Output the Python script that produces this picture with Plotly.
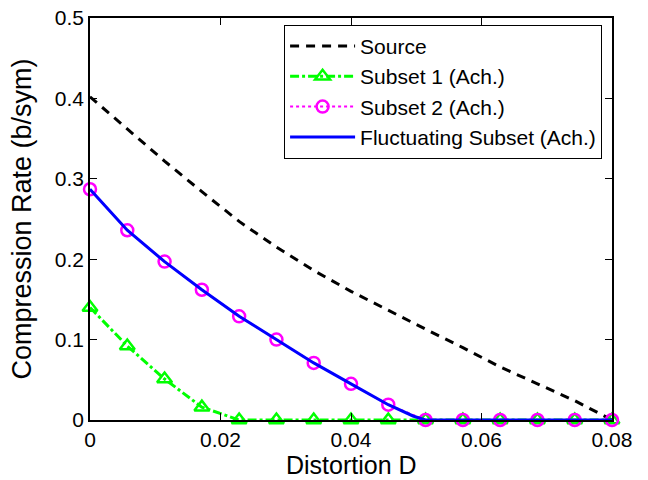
import plotly.graph_objects as go

distortion = [0.0, 0.005714, 0.011429, 0.017143, 0.022857, 0.028571, 0.034286, 0.04,
              0.045714, 0.051429, 0.057143, 0.062857, 0.068571, 0.074286, 0.08]
source = [0.402, 0.362, 0.322, 0.284, 0.247, 0.215, 0.186, 0.160,
          0.136, 0.113, 0.090, 0.066, 0.045, 0.024, 0.0]
subset1 = [0.140, 0.092, 0.051, 0.016, 0.0, 0.0, 0.0, 0.0,
           0.0, 0.0, 0.0, 0.0, 0.0, 0.0, 0.0]
subset2 = [0.287, 0.236, 0.197, 0.162, 0.129, 0.100, 0.071, 0.045,
           0.019, 0.0, 0.0, 0.0, 0.0, 0.0, 0.0]
fluct_x = [0.0, 0.005714, 0.011429, 0.017143, 0.022857, 0.028571, 0.034286, 0.04,
           0.045714, 0.0495, 0.0514, 0.057143, 0.062857, 0.068571, 0.074286, 0.08]
fluct_y = [0.287, 0.236, 0.197, 0.162, 0.129, 0.100, 0.071, 0.045,
           0.019, 0.005, 0.0, 0.0, 0.0, 0.0, 0.0, 0.0]
x_title = "Distortion D"
y_title = "Compression Rate (b/sym)"

font = "Liberation Sans, Arial, Helvetica, sans-serif"

fig = go.Figure()
fig.add_trace(go.Scatter(x=distortion, y=source, mode="lines", name="Source",
                         line=dict(color="black", width=3, dash="9px,7px"),
                         cliponaxis=False))
fig.add_trace(go.Scatter(x=distortion, y=subset1, mode="lines+markers", name="Subset 1 (Ach.)",
                         line=dict(color="#00ff00", width=3, dash="dashdot"),
                         marker=dict(symbol="triangle-up-open", size=13,
                                     line=dict(color="#00ff00", width=2.5), color="#00ff00"),
                         cliponaxis=False))
fig.add_trace(go.Scatter(x=distortion, y=subset2, mode="lines+markers", name="Subset 2 (Ach.)",
                         line=dict(color="#ff00ff", width=2, dash="dot"),
                         marker=dict(symbol="circle-open", size=12,
                                     line=dict(color="#ff00ff", width=2.5), color="#ff00ff"),
                         cliponaxis=False))
fig.add_trace(go.Scatter(x=fluct_x, y=fluct_y, mode="lines", name="Fluctuating Subset (Ach.)",
                         line=dict(color="#0000ff", width=3),
                         cliponaxis=False))

axis_common = dict(showline=True, linecolor="black", linewidth=1.5, mirror="ticks",
                   ticks="inside", ticklen=7, tickcolor="black", tickwidth=1,
                   showgrid=False, zeroline=False, automargin=False,
                   tickfont=dict(family=font, size=21, color="black"))

fig.update_xaxes(range=[0, 0.08], tickvals=[0, 0.02, 0.04, 0.06, 0.08],
                 ticktext=["0", "0.02", "0.04", "0.06", "0.08"],
                 **axis_common)
fig.update_yaxes(range=[0, 0.5], tickvals=[0, 0.1, 0.2, 0.3, 0.4, 0.5],
                 ticktext=["0", "0.1", "0.2", "0.3", "0.4", "0.5"],
                 title=dict(text=y_title, font=dict(family=font, size=27, color="black")),
                 **axis_common)

fig.add_annotation(text=x_title, xref="paper", yref="paper", x=0.5, y=-0.113,
                   xanchor="center", yanchor="middle", showarrow=False,
                   font=dict(family=font, size=25, color="black"), borderpad=0)

fig.update_layout(
    width=648, height=480,
    margin=dict(l=90, r=36, t=18, b=60),
    paper_bgcolor="white", plot_bgcolor="white",
    showlegend=True,
    legend=dict(x=0.981, y=0.983, xanchor="right", yanchor="top",
                bgcolor="white", bordercolor="black", borderwidth=1,
                font=dict(family=font, size=21, color="black"),
                tracegroupgap=0, itemwidth=65),
)

fig.write_html("out.html")
